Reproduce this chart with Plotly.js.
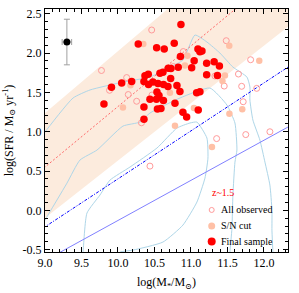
<!DOCTYPE html>
<html><head><meta charset="utf-8">
<script src="https://cdn.plot.ly/plotly-3.0.1.min.js"></script>
<style>html,body{margin:0;padding:0;background:#fff}#c{width:299px;height:293px}</style>
</head><body><div id="c"></div>
<script>
// Final sample (filled red)
const finalX=[10.863,10.278,10.530,10.634,10.771,11.096,11.123,11.151,10.856,11.044,11.215,11.318,11.390,10.826,10.689,10.726,11.010,11.215,11.363,10.722,10.575,10.616,10.370,10.415,10.051,10.188,9.911,10.356,10.418,10.479,10.548,10.623,10.685,10.808,10.849,11.078,11.123,10.534,10.562,10.438,10.527,10.623,9.808,10.356,10.541,10.589,10.781,10.890,10.941,11.100,10.356];
const finalY=[2.363,2.115,2.068,2.051,2.124,2.051,2.017,2.026,1.956,1.902,1.869,1.890,1.835,1.818,1.806,1.803,1.813,1.724,1.714,1.676,1.742,1.755,1.711,1.729,1.619,1.638,1.564,1.638,1.599,1.631,1.612,1.599,1.574,1.587,1.510,1.495,1.508,1.504,1.459,1.411,1.411,1.396,1.351,1.313,1.288,1.294,1.360,1.246,1.186,1.275,1.157];
// S/N cut (filled peach)
const snX=[10.347,11.525,11.936,10.952,10.918,11.466,11.432,10.171,10.712,10.068,11.041,10.781,11.527,11.703,11.288];
const snY=[2.115,2.093,1.902,1.965,1.841,1.714,1.644,1.589,1.495,1.307,1.300,1.074,1.227,1.284,0.804];
// All observed (open circles)
const allX=[10.462,9.774,10.119,9.884,10.141,10.256,10.322,10.895,11.484,11.818,11.651,11.329,11.456,11.695,11.901,11.716,11.352,11.751,12.082,10.438,10.760,10.466];
const allY=[2.293,1.778,1.688,1.526,1.472,1.387,1.113,2.019,2.157,1.915,1.733,1.708,1.580,1.577,1.551,1.381,0.912,0.963,0.999,0.562,1.828,1.466];
// typical error
const errX=[9.30], errY=[2.14], errXval=[0.065], errYval=[0.29];
// main-sequence band and relations
const bandX=[8.9,12.5,12.5,8.9];
const bandY=[1.16,3.99,2.46,-0.17];
const msRedX=[8.9,12.5], msRedY=[0.473,3.245];
const msBlueX=[8.9,12.5], msBlueY=[-0.271,1.925];
const msSolidX=[8.9,12.5], msSolidY=[-0.690,1.146];
// density contours
const c1X=[9.51,9.521,9.575,9.753,9.890,10.164,10.534,10.808,10.986,11.082,11.219,11.233,11.192,11.082,10.890,10.616,10.205,10.027,9.98];
const c1Y=[-0.60,-0.532,-0.035,0.194,0.384,0.550,0.792,1.046,1.110,1.122,0.919,0.664,0.410,0.105,-0.188,-0.404,-0.506,-0.532,-0.60];
const c2X=[8.9,9.0,9.301,9.479,9.712,10.068,10.301,10.438,10.849,11.260,11.493,11.603,11.630,11.603,11.575,11.562,11.534,11.53];
const c2Y=[-0.28,-0.124,0.346,0.639,0.766,1.071,1.122,1.237,1.428,1.555,1.339,1.110,0.766,0.613,0.194,-0.226,-0.532,-0.60];
const c3X=[8.9,9.0,9.384,9.616,10.068,10.438,10.712,10.890,11.055,11.219,11.397,11.575,11.767,11.808,11.808,11.849,11.945,12.014,12.082,12.110,12.110,12.123,12.125];
const c3Y=[0.85,0.995,1.428,1.530,1.631,1.695,1.822,1.911,2.229,2.140,2.000,1.822,1.695,1.568,1.402,1.148,0.893,0.613,0.321,0.003,-0.252,-0.532,-0.60];
// tick labels
const xTickVals=[9.0,9.5,10.0,10.5,11.0,11.5,12.0];
const xTickText=['9.0','9.5','10.0','10.5','11.0','11.5','12.0'];
const yTickVals=[-0.5,0.0,0.5,1.0,1.5,2.0,2.5];
const yTickText=['-0.5','0.0','0.5','1.0','1.5','2.0','2.5'];
const legendLabels=['All observed','S/N cut','Final sample'];

const F='"Liberation Serif","DejaVu Serif",serif';
const contourLine={color:'#aed6e8',width:1,shape:'spline',smoothing:0.5};
const traces=[
 {x:bandX,y:bandY,type:'scatter',mode:'lines',fill:'toself',fillcolor:'#fcebdd',line:{width:0},hoverinfo:'skip'},
 {x:c1X,y:c1Y,type:'scatter',mode:'lines',line:contourLine},
 {x:c2X,y:c2Y,type:'scatter',mode:'lines',line:contourLine},
 {x:c3X,y:c3Y,type:'scatter',mode:'lines',line:contourLine},
 {x:msSolidX,y:msSolidY,type:'scatter',mode:'lines',line:{color:'#8080ff',width:1}},
 {x:msBlueX,y:msBlueY,type:'scatter',mode:'lines',line:{color:'#0000ff',width:1,dash:'3px,1.5px,1px,1.5px'}},
 {x:msRedX,y:msRedY,type:'scatter',mode:'lines',line:{color:'#ff6a6a',width:1,dash:'2px,2px'}},
 {x:allX,y:allY,type:'scatter',mode:'markers',marker:{symbol:'circle-open',size:6,color:'#ff9a9a',line:{width:1}}},
 {x:snX,y:snY,type:'scatter',mode:'markers',marker:{size:6.5,color:'#ffc0a6'}},
 {x:finalX,y:finalY,type:'scatter',mode:'markers',marker:{size:7.5,color:'#ff0000'}},
 {x:errX,y:errY,type:'scatter',mode:'markers',marker:{size:7,color:'#000'},
  error_x:{type:'data',array:errXval,color:'#a0a0a0',thickness:1,width:3},
  error_y:{type:'data',array:errYval,color:'#a0a0a0',thickness:1,width:3}}
];
const ax={showline:true,linecolor:'#000',linewidth:1,mirror:'allticks',ticks:'inside',ticklen:5,tickcolor:'#000',
 showgrid:false,zeroline:false,tickfont:{family:F,size:12,color:'#000'},tickmode:'array',
 minor:{ticks:'inside',dtick:0.1,ticklen:3,tickcolor:'#000',showgrid:false}};
const lx=0.686, tx=0.718, ly=[0.173,0.107,0.043];
const layout={
 width:299,height:293,margin:{l:45,r:11,t:9,b:41},paper_bgcolor:'#fff',plot_bgcolor:'#fff',showlegend:false,
 xaxis:Object.assign({},ax,{range:[9.0,12.33],tickvals:xTickVals,ticktext:xTickText,
   minor:Object.assign({},ax.minor,{tick0:9.0}),
   title:{text:'log(M<sub>*</sub>/M<sub>⊙</sub>)',font:{family:F,size:12,color:'#000'},standoff:8}}),
 yaxis:Object.assign({},ax,{range:[-0.53,2.56],tickvals:yTickVals,ticktext:yTickText,
   minor:Object.assign({},ax.minor,{tick0:0}),
   title:{text:'log(SFR / M<sub>⊙</sub> yr<sup>-1</sup>)',font:{family:F,size:12,color:'#000'},standoff:6}}),
 annotations:[
  {xref:'paper',yref:'paper',x:0.681,y:0.243,xanchor:'left',yanchor:'middle',showarrow:false,text:'z~1.5',font:{family:F,size:10,color:'#ff0000'}},
  ...legendLabels.map((t,i)=>({xref:'paper',yref:'paper',x:tx,y:ly[i],xanchor:'left',yanchor:'middle',showarrow:false,text:t,font:{family:F,size:10,color:'#000'}}))
 ],
 shapes:[
  {type:'circle',xref:'paper',yref:'paper',xsizemode:'pixel',ysizemode:'pixel',xanchor:lx,yanchor:ly[0],x0:-2.5,x1:2.5,y0:-2.5,y1:2.5,line:{color:'#ff9a9a',width:1},fillcolor:'rgba(0,0,0,0)'},
  {type:'circle',xref:'paper',yref:'paper',xsizemode:'pixel',ysizemode:'pixel',xanchor:lx,yanchor:ly[1],x0:-3.5,x1:3.5,y0:-3.5,y1:3.5,line:{width:0},fillcolor:'#ffc0a6'},
  {type:'circle',xref:'paper',yref:'paper',xsizemode:'pixel',ysizemode:'pixel',xanchor:lx,yanchor:ly[2],x0:-4,x1:4,y0:-4,y1:4,line:{width:0},fillcolor:'#ff0000'}
 ]
};
Plotly.newPlot('c',traces,layout,{displayModeBar:false,staticPlot:true});
</script></body></html>
